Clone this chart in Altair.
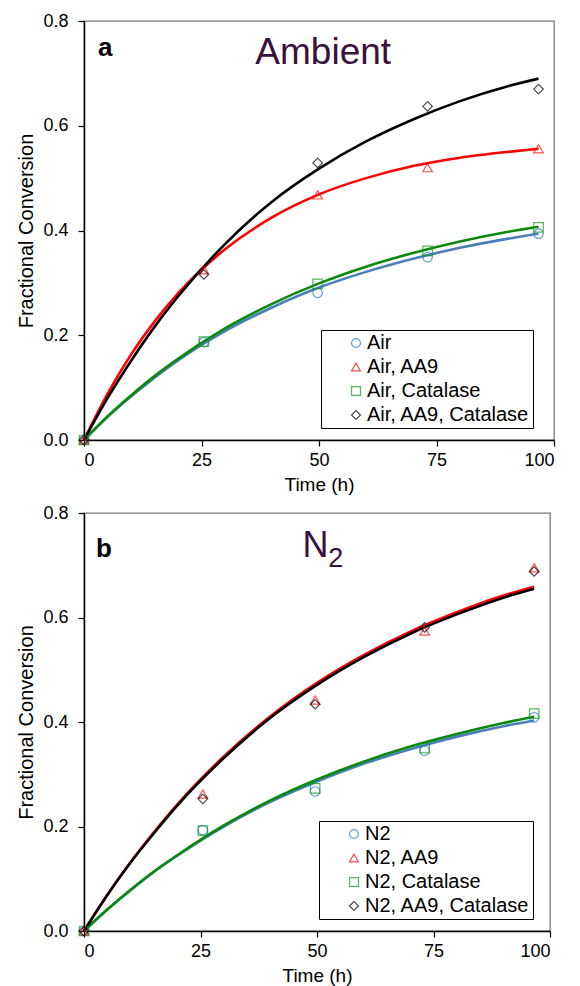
import altair as alt
import pandas as pd

FONT = "Liberation Sans"

# ---------------- data: panel a (Ambient) ----------------
series_a = ["Air", "Air, AA9", "Air, Catalase", "Air, AA9, Catalase"]
pt_time_a = [0, 25.5, 49.7, 73.1, 96.7]
air = [0, 0.187, 0.281, 0.349, 0.394]
air_aa9 = [0, 0.325, 0.468, 0.520, 0.556]
air_cat = [0, 0.188, 0.298, 0.361, 0.406]
air_aa9_cat = [0, 0.316, 0.529, 0.637, 0.670]

fit_time_a = [0, 5, 10, 15, 20, 30, 40, 50, 60, 70, 80, 90, 96.7]
fit_air = [0, 0.044, 0.083, 0.119, 0.152, 0.208, 0.253, 0.291, 0.321, 0.346, 0.367, 0.384, 0.394]
fit_air_aa9 = [0, 0.088, 0.163, 0.226, 0.280, 0.364, 0.425, 0.469, 0.500, 0.523, 0.539, 0.550, 0.556]
fit_air_cat = [0, 0.045, 0.085, 0.122, 0.155, 0.213, 0.260, 0.299, 0.331, 0.357, 0.379, 0.397, 0.407]
fit_air_aa9_cat = [0, 0.080, 0.151, 0.216, 0.274, 0.374, 0.455, 0.518, 0.570, 0.612, 0.647, 0.675, 0.690]

# ---------------- data: panel b (N2) ----------------
series_b = ["N2", "N2, AA9", "N2, Catalase", "N2, AA9, Catalase"]
pt_time_b = [0, 25.5, 49.6, 73.1, 96.6]
n2 = [0, 0.193, 0.267, 0.345, 0.409]
n2_aa9 = [0, 0.262, 0.442, 0.574, 0.695]
n2_cat = [0, 0.192, 0.273, 0.350, 0.416]
n2_aa9_cat = [0, 0.253, 0.434, 0.581, 0.688]

fit_time_b = [0, 5, 10, 15, 20, 30, 40, 50, 60, 70, 80, 90, 96.6]
fit_n2 = [0, 0.041, 0.078, 0.113, 0.144, 0.200, 0.247, 0.286, 0.320, 0.348, 0.372, 0.392, 0.403]
fit_n2_aa9 = [0, 0.069, 0.132, 0.189, 0.242, 0.334, 0.411, 0.475, 0.528, 0.573, 0.610, 0.642, 0.659]
fit_n2_cat = [0, 0.041, 0.079, 0.114, 0.145, 0.202, 0.250, 0.290, 0.324, 0.353, 0.377, 0.398, 0.410]
fit_n2_aa9_cat = [0, 0.069, 0.131, 0.187, 0.240, 0.331, 0.408, 0.471, 0.524, 0.569, 0.606, 0.638, 0.655]

# ---------------- axis ticks ----------------
x_ticks = [0, 25, 50, 75, 100]
y_ticks = [0, 0.2, 0.4, 0.6, 0.8]

# ---------------- in-plot annotations (data coordinates) ----------------
ann_a = {"letter": ("a", 3.0, 0.733), "title": ("Ambient", 50.9, 0.718)}
ann_b = {"letter": ("b", 2.6, 0.716), "main": ("N", 46.9, 0.716), "sub": ("2", 52.4, 0.697)}

point_colors = ["#1f78c8", "#ff0000", "#10961a", "#000000"]
line_colors = ["#4a7ebb", "#ff0000", "#0a8a0a", "#000000"]
shapes = ["circle", "triangle-up", "square", "diamond"]
title_color = "#3a103c"


def long_frame(times, names, cols, key):
    rows = []
    for name, col in zip(names, cols):
        for t, v in zip(times, col):
            rows.append({"t": t, "v": v, key: name})
    return pd.DataFrame(rows)


def text_layer(label, t, v, size, bold=False, align="left"):
    df = pd.DataFrame({"t": [t], "v": [v], "txt": [label]})
    return alt.Chart(df).mark_text(
        font=FONT, fontSize=size, fontWeight="bold" if bold else "normal",
        color="black" if bold else title_color, align=align, baseline="alphabetic",
    ).encode(x="t:Q", y="v:Q", text="txt:N")


def panel(series, pt_time, pt_cols, fit_time, fit_cols, texts, width, height, lx, ly):
    pts = long_frame(pt_time, series, pt_cols, "s")
    x = alt.X("t:Q", scale=alt.Scale(domain=[0, 100], nice=False),
              axis=alt.Axis(values=x_ticks, title="Time (h)", format="d"))
    y = alt.Y("v:Q", scale=alt.Scale(domain=[0, 0.8], nice=False),
              axis=alt.Axis(values=y_ticks, format=".1f", title="Fractional Conversion",
                            titleFontSize=20))
    lines = []
    for col, c in zip(fit_cols, line_colors):
        df = pd.DataFrame({"t": fit_time, "v": col})
        lines.append(alt.Chart(df).mark_line(strokeWidth=2.6, interpolate="monotone", color=c)
                     .encode(x=x, y=y))
    leg = alt.Legend(title=None, orient="none", legendX=lx, legendY=ly,
                     labelExpr="datum.label + '   '")
    points = alt.Chart(pts).mark_point(filled=False, size=90, strokeWidth=1.2).encode(
        x=x, y=y,
        color=alt.Color("s:N", scale=alt.Scale(domain=series, range=point_colors), legend=leg),
        shape=alt.Shape("s:N", scale=alt.Scale(domain=series, range=shapes), legend=leg),
    )
    layers = lines + [points] + texts
    return alt.layer(*layers).properties(width=width, height=height)


texts_a = [
    text_layer(ann_a["letter"][0], ann_a["letter"][1], ann_a["letter"][2], 26, bold=True),
    text_layer(ann_a["title"][0], ann_a["title"][1], ann_a["title"][2], 37, align="center"),
]
texts_b = [
    text_layer(ann_b["letter"][0], ann_b["letter"][1], ann_b["letter"][2], 26, bold=True),
    text_layer(ann_b["main"][0], ann_b["main"][1], ann_b["main"][2], 36),
    text_layer(ann_b["sub"][0], ann_b["sub"][1], ann_b["sub"][2], 27),
]

pa = panel(series_a, pt_time_a, [air, air_aa9, air_cat, air_aa9_cat],
           fit_time_a, [fit_air, fit_air_aa9, fit_air_cat, fit_air_aa9_cat],
           texts_a, 470, 419, 237, 309)
pb = panel(series_b, pt_time_b, [n2, n2_aa9, n2_cat, n2_aa9_cat],
           fit_time_b, [fit_n2, fit_n2_aa9, fit_n2_cat, fit_n2_aa9_cat],
           texts_b, 466, 418, 235, 308)

chart = alt.vconcat(pa, pb, spacing=8).resolve_scale(
    color="independent", shape="independent"
).configure(
    font=FONT, padding={"left": 8, "top": 3, "right": 5, "bottom": 2}
).configure_view(
    stroke="#7a7a7a", strokeWidth=1.3
).configure_axis(
    grid=False, domainColor="black", domainWidth=1.5, tickColor="black", tickSize=6,
    tickWidth=1.2, labelFontSize=18, titleFontSize=19, labelColor="black",
    titleColor="black", titleFontWeight="normal", labelFont=FONT, titleFont=FONT,
).configure_axisY(
    labelPadding=10, titlePadding=6
).configure_axisX(
    labelPadding=5, titlePadding=6
).configure_legend(
    strokeColor="black", fillColor="white", padding=3, labelLimit=400,
    symbolOffset=22, rowPadding=4, labelFontSize=20, labelFont=FONT,
    symbolSize=80, symbolStrokeWidth=1.2, labelOffset=1, labelColor="black",
)

chart.save("out.html", embed_options={"renderer": "svg", "actions": False})
